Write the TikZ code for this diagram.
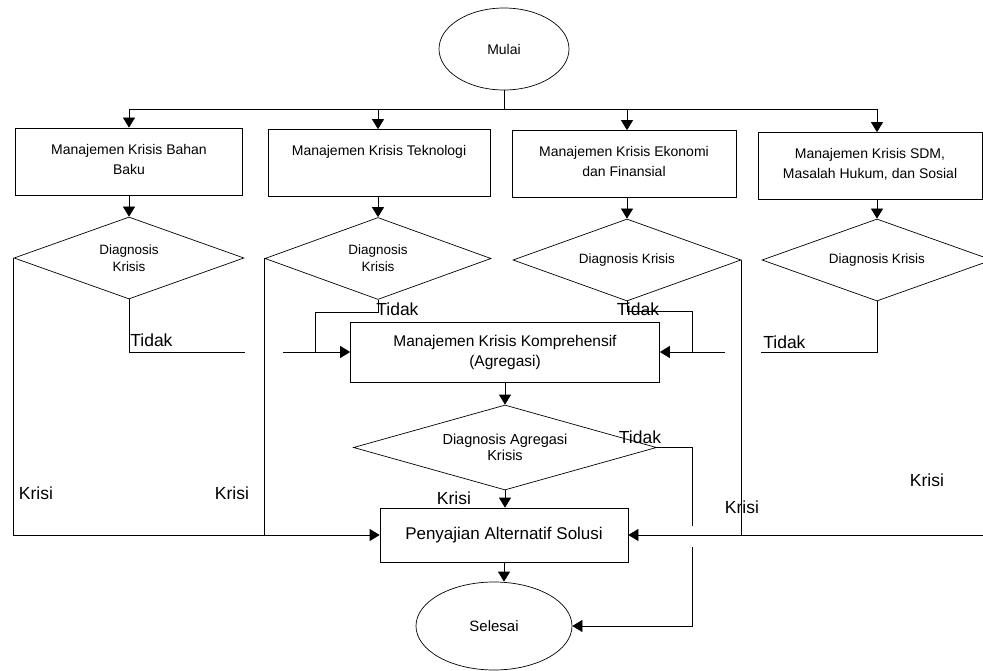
\documentclass[tikz,border=0pt]{standalone}
\usepackage{fontspec}
\setmainfont{Liberation Sans}
\usetikzlibrary{arrows.meta,shapes.geometric}

\newcommand{\toptext}[1]{\parbox[c][35pt][t]{200pt}{\centering #1}}

\begin{document}
\begin{tikzpicture}[
    x=1pt, y=1pt,
    >={Triangle[length=10pt,width=12pt]},
    line width=0.7pt,
    term/.style   = {ellipse, draw, minimum width=130pt,
                     minimum height=82pt, font=\fontsize{14}{17}\selectfont},
    proc/.style   = {rectangle, draw, align=center},
    area/.style   = {proc, inner xsep=4pt, inner ysep=16pt,
                     font=\fontsize{14}{20}\selectfont},
    decide/.style = {diamond, draw, aspect=2.8, inner sep=0pt,
                     minimum width=228pt, minimum height=82pt, align=center,
                     font=\fontsize{13.5}{17}\selectfont},
    lbl/.style    = {inner sep=1pt, font=\fontsize{17.5}{20}\selectfont},
  ]
  \useasboundingbox (0,0) rectangle (983,-671);
  % start
  \node[term] (mulai) at (504,-49) {Mulai};
  \coordinate (bus) at (504,-109);
  % crisis areas
  \node[area, minimum width=227pt] (b1) at (129,-161.5) {\toptext{Manajemen Krisis Bahan\\Baku}};
  \node[area, minimum width=222pt] (b2) at (379,-163)   {\toptext{Manajemen Krisis Teknologi}};
  \node[area, minimum width=224pt] (b3) at (624,-164)   {\toptext{Manajemen Krisis Ekonomi\\dan Finansial}};
  \node[area, minimum width=224pt] (b4) at (870,-166)   {\toptext{Manajemen Krisis SDM,\\Masalah Hukum, dan Sosial}};
  % diagnosis per area
  \node[decide, minimum width=230pt] (d1) at (129,-258)   {Diagnosis\\Krisis};
  \node[decide, minimum width=226pt] (d2) at (378,-258.5) {Diagnosis\\Krisis};
  \node[decide]                      (d3) at (627,-260)   {Diagnosis Krisis};
  \node[decide, minimum width=230pt] (d4) at (877,-260)   {Diagnosis Krisis};
  % aggregation, solution, end
  \node[proc, minimum width=309pt, minimum height=60pt,
        font=\fontsize{15.5}{20}\selectfont] (kom) at (505,-352)
        {Manajemen Krisis Komprehensif\\(Agregasi)};
  \node[decide, minimum width=303pt, minimum height=85pt,
        font=\fontsize{14.5}{16}\selectfont] (d5) at (505,-447.5)
        {Diagnosis Agregasi\\Krisis};
  \node[proc, minimum width=248pt, minimum height=54pt,
        font=\fontsize{17}{20}\selectfont] (pen) at (504,-535)
        {Penyajian Alternatif Solusi};
  \node[term, minimum width=156pt, minimum height=88pt,
        font=\fontsize{15}{18}\selectfont] (selesai) at (494,-626) {Selesai};
  \coordinate (jr) at ([xshift=32pt]kom.east);

  % top distribution
  \draw (mulai.south) -- (bus);
  \draw (d1.north |- bus) -- (d4.north |- bus);
  \foreach \i in {1,...,4}{
    \draw[->] (d\i.north |- bus) -- (d\i.north |- b\i.north);
    \draw[->] (d\i.north |- b\i.south) -- (d\i.north);
  }
  % Krisi branches
  \draw[->] (d1.west) |- (pen.west);
  \draw (d2.west) -- (d2.west |- pen.west);
  \draw[->] (d3.east) |- (pen.east);
  \draw (d4.east) |- (d3.east |- pen.east);
  % Tidak branches
  \draw (d1.south) |- ([xshift=-20pt]d2.west |- kom.west);
  \draw[->] ([xshift=18pt]d2.west |- kom.west) -- (kom.west);
  \draw (d2.south) -- ++(0,-12) -| ([xshift=-35pt]kom.west);
  \draw[->] (d3.south) -- ++(0,-10) -| (jr) -- (kom.east);
  \draw (d4.south) |- ([xshift=20pt]d3.east |- kom.east);
  \draw ([xshift=-16pt]d3.east |- kom.east) -- (jr);
  % aggregate flow
  \draw[->] (kom.south) -- (d5.north);
  \draw[->] (d5.south) -- (d5.south |- pen.north);
  \draw (d5.east) -| ([yshift=9pt]jr |- pen.east);
  \draw[->] ([yshift=-12pt]jr |- pen.east) |- (selesai.east);
  \draw[->] (pen.south) -- (pen.south |- selesai.north);

  % labels
  \node[lbl, anchor=base west] (t1) at (129,-346) {Tidak};
  \node[lbl, anchor=west]      (t2) at (375,-309.5) {Tidak};
  \node[lbl]                   (t3) at (638,-309) {Tidak};
  \node[lbl, anchor=base west] (t4) at (762,-348) {Tidak};
  \node[lbl]                   (t5) at (640,-437) {Tidak};
  \node[lbl] (k1) at (36,-493)  {Krisi};
  \node[lbl] (k2) at (232,-493) {Krisi};
  \node[lbl] (k3) at (742,-507) {Krisi};
  \node[lbl] (k4) at (927,-480) {Krisi};
  \node[lbl] (k5) at (454,-498) {Krisi};
\end{tikzpicture}
\end{document}
